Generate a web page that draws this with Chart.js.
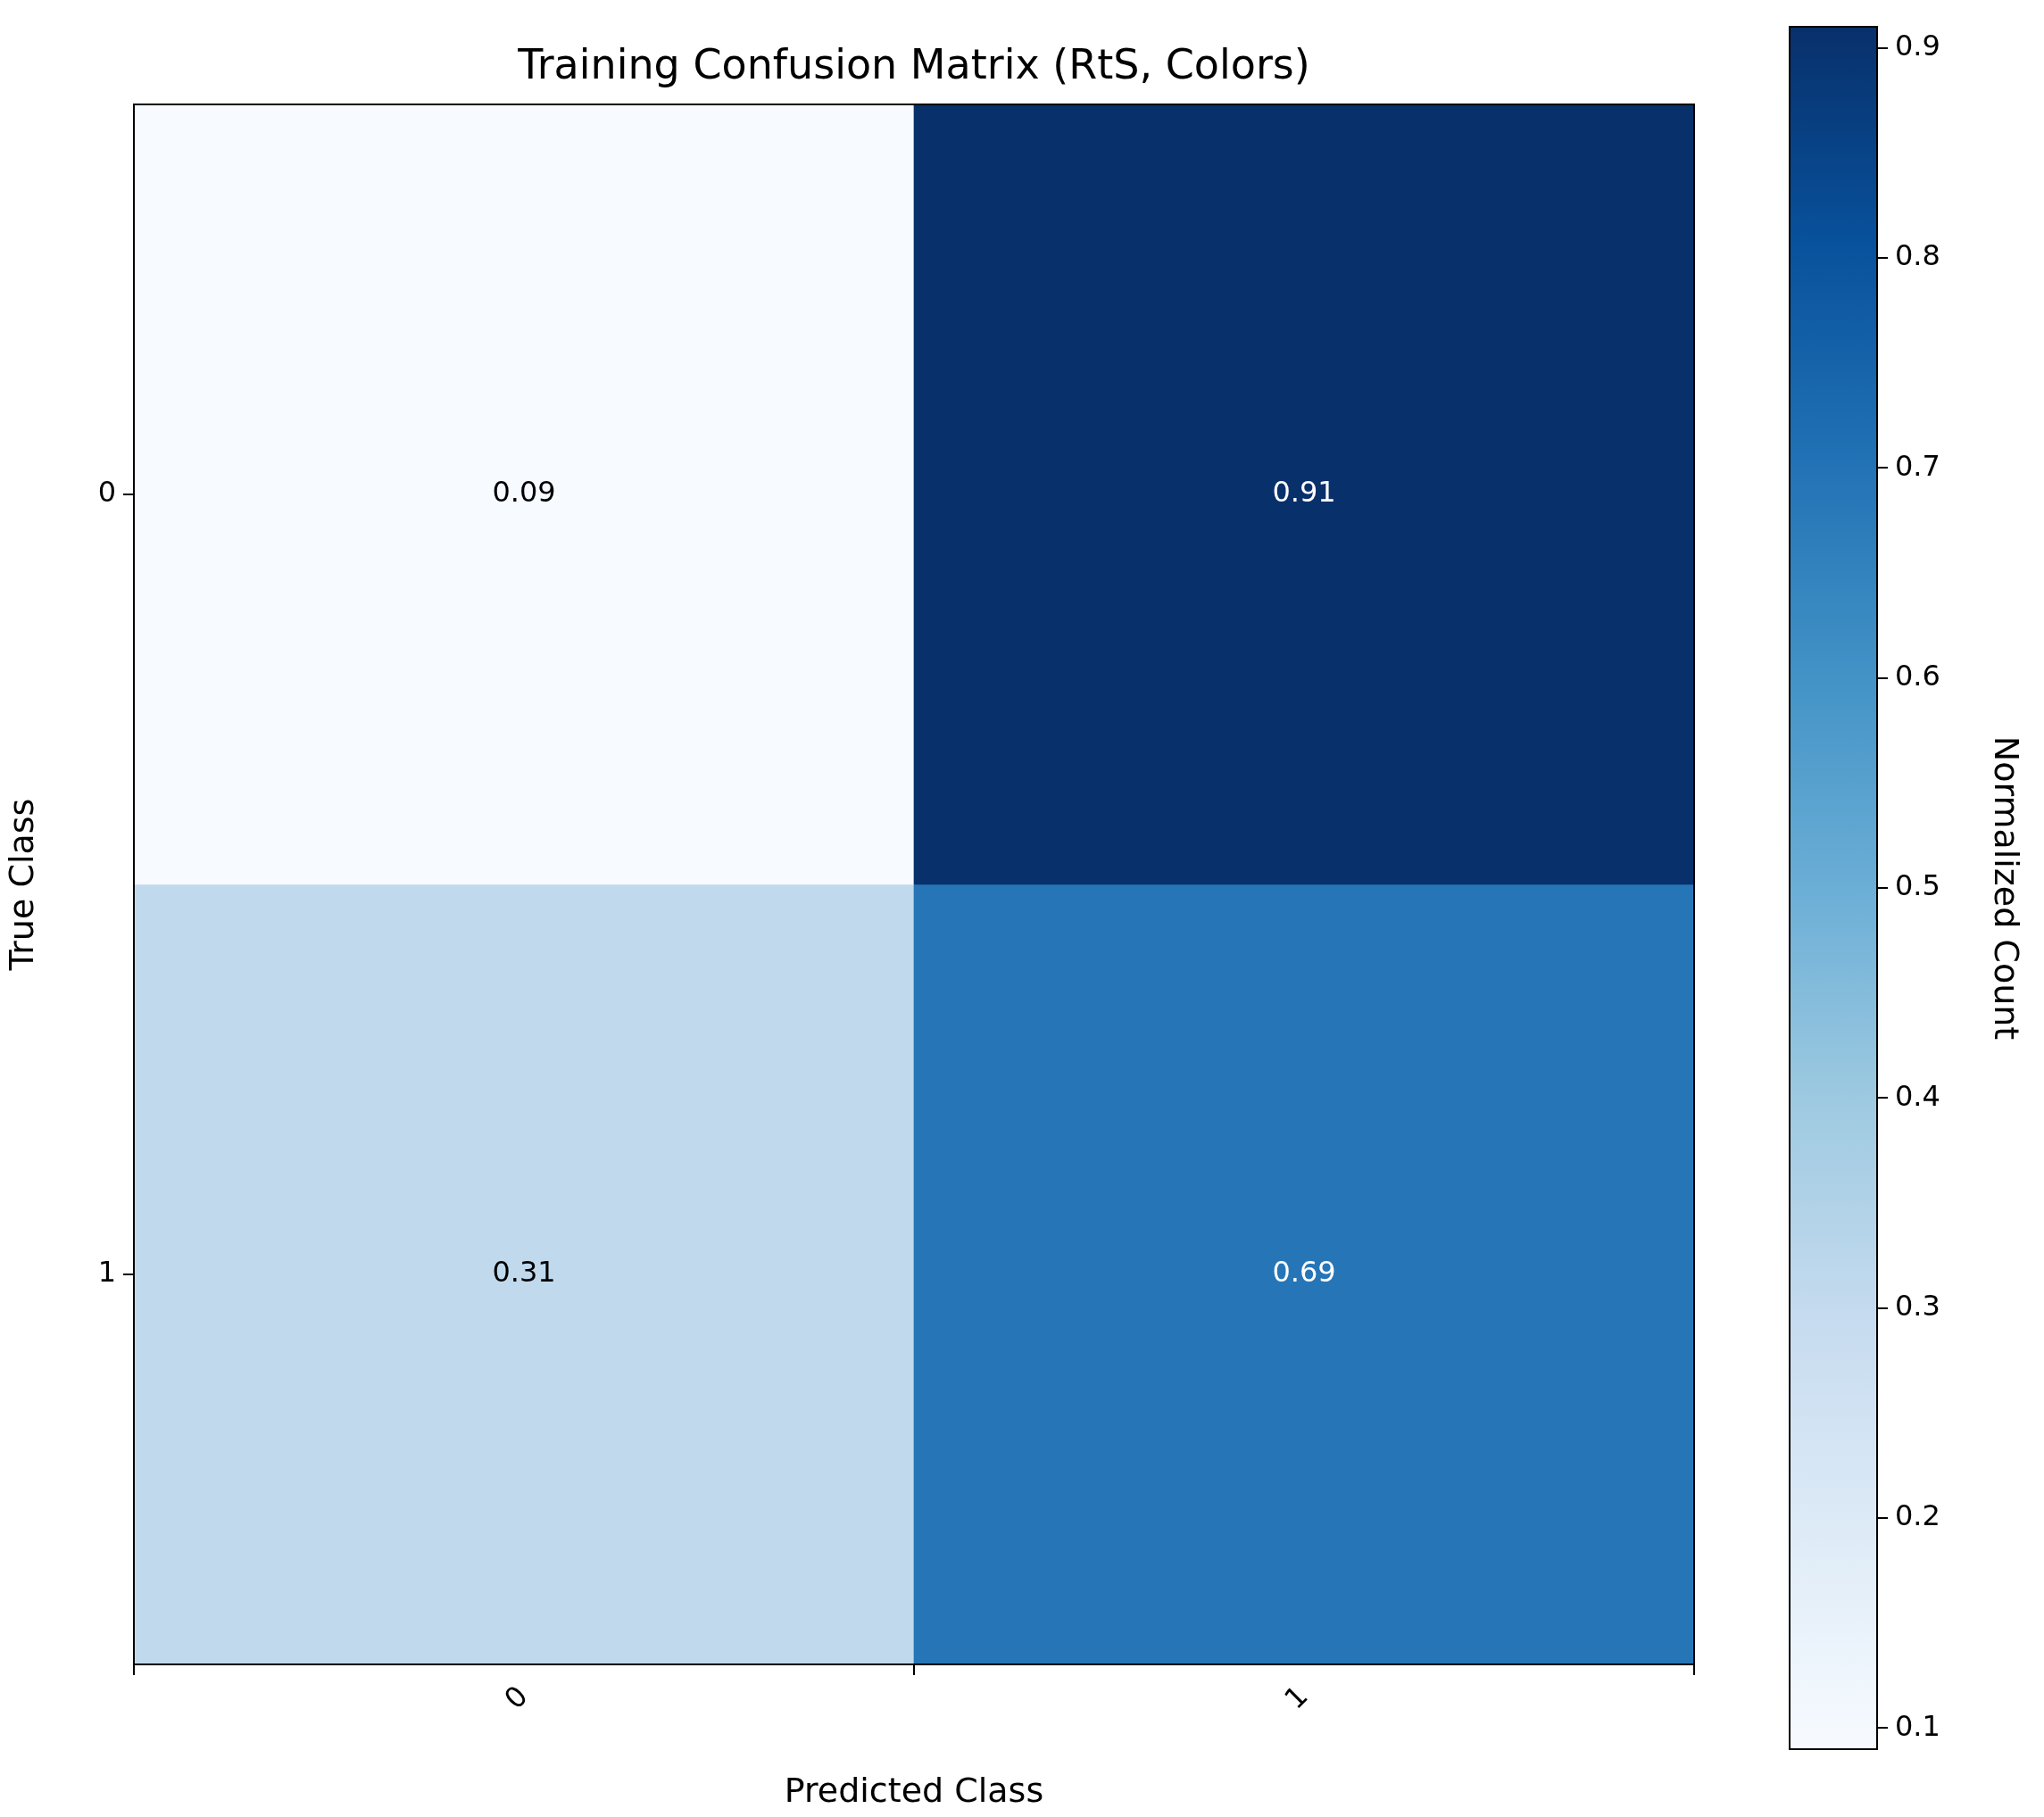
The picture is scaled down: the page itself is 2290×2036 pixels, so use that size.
<!DOCTYPE html>
<html><head><meta charset="utf-8">
<script src="https://cdn.jsdelivr.net/npm/chart.js@4"></script>
<style>
body{margin:0;background:#fff;}
#wrap{position:relative;width:2290px;height:2036px;}
canvas{position:absolute;top:0;}
</style></head><body>
<div id="wrap">
  <canvas id="cm" style="left:0;width:1960px;height:2036px" width="1960" height="2036"></canvas>
  <canvas id="cb" style="left:1990px;width:300px;height:2036px" width="300" height="2036"></canvas>
</div>
<script>
'use strict';

// ── Data ────────────────────────────────────────────────────────────
const PRED_CLASSES = ['0', '1'];
const TRUE_CLASSES = ['0', '1'];
const ROW_0 = [0.09, 0.91];
const ROW_1 = [0.31, 0.69];
const CB_TICKS = [0.1, 0.2, 0.3, 0.4, 0.5, 0.6, 0.7, 0.8, 0.9];
const V_MIN = 0.09, V_MAX = 0.91;

const FONT = '"DejaVu Sans", sans-serif';
Chart.defaults.font.family = FONT;
Chart.defaults.color = '#000';
Chart.defaults.animation = false;

// ── Blues colormap ──────────────────────────────────────────────────
const BLUES = ['#f7fbff','#deebf7','#c6dbef','#9ecae1','#6baed6','#4292c6','#2171b5','#08519c','#08306b'];

function hex(c) { return [1, 3, 5].map(i => parseInt(c.slice(i, i + 2), 16)); }

function blues(v) {
  let t = Math.min(1, Math.max(0, (v - V_MIN) / (V_MAX - V_MIN))) * (BLUES.length - 1);
  const i = Math.min(BLUES.length - 2, Math.floor(t));
  const f = t - i;
  const a = hex(BLUES[i]), b = hex(BLUES[i + 1]);
  const c = a.map((x, k) => Math.round(x + (b[k] - x) * f));
  return `rgb(${c[0]},${c[1]},${c[2]})`;
}

const ROWS = [ROW_0, ROW_1];

// ── Matrix chart ────────────────────────────────────────────────────
const matrixPlugin = {
  id: 'matrixDecor',
  afterDatasetsDraw(chart) {
    const { ctx, chartArea: a, scales: { x, y } } = chart;
    ctx.save();
    ctx.font = `32px ${FONT}`;
    ctx.textAlign = 'center';
    ctx.textBaseline = 'middle';
    ROWS.forEach((row, r) => row.forEach((v, c) => {
      ctx.fillStyle = v > 0.5 ? '#fff' : '#000';
      ctx.fillText(v.toFixed(2), x.getPixelForValue(c), y.getPixelForValue(r));
    }));
    ctx.strokeStyle = '#000';
    ctx.lineWidth = 2;
    ctx.strokeRect(a.left, a.top, a.right - a.left, a.bottom - a.top);
    ctx.font = `46px ${FONT}`;
    ctx.fillStyle = '#000';
    ctx.textBaseline = 'alphabetic';
    ctx.fillText('Training Confusion Matrix (RtS, Colors)', (a.left + a.right) / 2, 88);
    ctx.restore();
  },
};

new Chart(document.getElementById('cm'), {
  type: 'bar',
  data: {
    labels: PRED_CLASSES,
    datasets: ROWS.map((row, r) => ({
      label: TRUE_CLASSES[r],
      data: row.map(() => [r - 0.5, r + 0.5]),
      backgroundColor: row.map(blues),
      borderWidth: 0,
      barPercentage: 1,
      categoryPercentage: 1,
      grouped: false,
    })),
  },
  options: {
    responsive: false,
    devicePixelRatio: 1,
    layout: { padding: { top: 117, right: 62, left: 0, bottom: 0 } },
    plugins: { legend: { display: false }, tooltip: { enabled: false } },
    scales: {
      x: {
        grid: { display: true, drawOnChartArea: false, drawTicks: true, tickLength: 12, color: '#000', lineWidth: 2 },
        border: { display: true, color: '#000', width: 2 },
        ticks: { font: { size: 32 }, minRotation: 45, maxRotation: 45, padding: 6 },
        title: { display: true, text: 'Predicted Class', font: { size: 38 }, padding: { top: 4 } },
        afterFit: s => { s.height = 2036 - 1865; },
      },
      y: {
        type: 'linear',
        min: -0.5, max: 1.5, reverse: true,
        afterBuildTicks: s => { s.ticks = TRUE_CLASSES.map((_, i) => ({ value: i })); },
        grid: { display: true, drawOnChartArea: false, drawTicks: true, tickLength: 12, color: '#000', lineWidth: 2 },
        border: { display: true, color: '#000', width: 2 },
        ticks: { font: { size: 32 }, padding: 8, callback: v => TRUE_CLASSES[v] },
        title: { display: true, text: 'True Class', font: { size: 38 }, padding: { bottom: 0 } },
        afterFit: s => { s.width = 150; },
      },
    },
  },
  plugins: [matrixPlugin],
});

// ── Colorbar ────────────────────────────────────────────────────────
const cbPlugin = {
  id: 'cbDecor',
  beforeDatasetsDraw(chart) {
    const { ctx, chartArea: a } = chart;
    const g = ctx.createLinearGradient(0, a.bottom, 0, a.top);
    BLUES.forEach((c, i) => g.addColorStop(i / (BLUES.length - 1), c));
    chart.data.datasets[0].backgroundColor = g;
    chart.getDatasetMeta(0).data.forEach(el => { el.options.backgroundColor = g; });
  },
  afterDatasetsDraw(chart) {
    const { ctx, chartArea: a } = chart;
    ctx.save();
    ctx.strokeStyle = '#000';
    ctx.lineWidth = 2;
    ctx.strokeRect(a.left, a.top, a.right - a.left, a.bottom - a.top);
    ctx.restore();
  },
};

new Chart(document.getElementById('cb'), {
  type: 'bar',
  data: {
    labels: [''],
    datasets: [{ data: [[V_MIN, V_MAX]], backgroundColor: '#08306b', borderWidth: 0, barPercentage: 1, categoryPercentage: 1 }],
  },
  options: {
    responsive: false,
    devicePixelRatio: 1,
    layout: { padding: { top: 30, bottom: 76, left: 15, right: 0 } },
    plugins: { legend: { display: false }, tooltip: { enabled: false } },
    scales: {
      x: { display: false },
      y: {
        position: 'right',
        min: V_MIN, max: V_MAX,
        afterBuildTicks: s => { s.ticks = CB_TICKS.map(v => ({ value: v })); },
        grid: { display: true, drawOnChartArea: false, drawTicks: true, tickLength: 12, color: '#000', lineWidth: 2 },
        border: { display: true, color: '#000', width: 2 },
        ticks: { font: { size: 32 }, padding: 8, callback: v => v.toFixed(1) },
        title: { display: true, text: 'Normalized Count', font: { size: 38 }, padding: { top: 22 } },
        afterFit: s => { s.width = 300 - 15 - 98; },
      },
    },
  },
  plugins: [cbPlugin],
});
</script>
</body></html>
